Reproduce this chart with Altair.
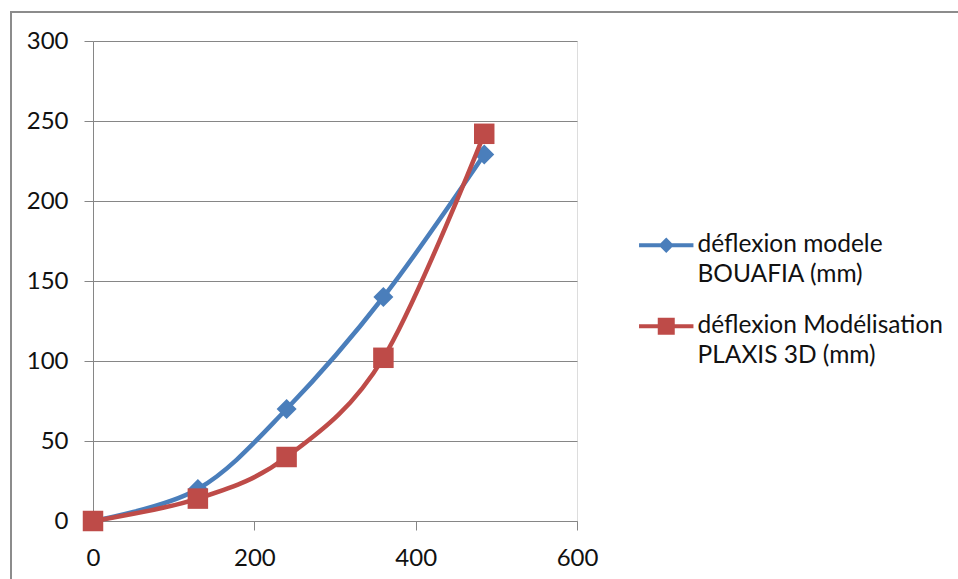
import altair as alt
import pandas as pd

# ---- data ----
x_vals = [0, 130, 240, 360, 485]
bouafia = [0, 20, 70, 140, 229]
plaxis = [0, 14, 40, 102, 242]
# each legend label is split into its two printed lines
label_a = ["déflexion modele", "BOUAFIA (mm)"]
label_b = ["déflexion Modélisation", "PLAXIS 3D (mm)"]
x_ticks = [0, 200, 400, 600]
y_ticks = [0, 50, 100, 150, 200, 250, 300]

df_a = pd.DataFrame({"x": x_vals, "y": bouafia, "series": label_a[0]})
df_b = pd.DataFrame({"x": x_vals, "y": plaxis, "series": label_b[0]})

BLUE = "#4A7EBB"
RED = "#BE4B48"
GRID = "#868686"
FONT = "Lato"
TXT = "#111111"

# legend symbols: horizontal line + marker (unit box -1..1 scaled by sqrt(size)/2)
diamond_path = "M-3.2,-0.24H3.2V0.24H-3.2Z M0,-0.9L0.9,0L0,0.9L-0.9,0Z"
square_path = "M-3.2,-0.24H3.2V0.24H-3.2Z M-1,-1H1V1H-1Z"

x_enc = alt.X(
    "x:Q",
    scale=alt.Scale(domain=[0, 600], nice=False, zero=False),
    axis=alt.Axis(values=x_ticks, title=None, grid=False, domainColor=GRID,
                  tickColor=GRID, tickSize=9, labelPadding=16, labelFont=FONT,
                  labelFontSize=24, labelColor=TXT, labelFlush=False),
)
y_enc = alt.Y(
    "y:Q",
    scale=alt.Scale(domain=[0, 300], nice=False),
    axis=alt.Axis(values=y_ticks, title=None, grid=True, gridColor=GRID,
                  domainColor=GRID, tickColor=GRID, tickSize=9, labelPadding=16,
                  labelFont=FONT, labelFontSize=24, labelColor=TXT),
)


def series_layer(df, labels, color, shape, size, path, ly):
    legend = alt.Legend(
        title=None, orient="none", legendX=561, legendY=ly,
        symbolType=path, symbolSize=289, symbolStrokeWidth=0,
        symbolFillColor=color,
        labelFont=FONT, labelFontSize=24.5, labelColor=TXT,
        labelOffset=19, labelLimit=500, rowPadding=5,
        padding=0,
    )
    return alt.Chart(df).mark_line(
        strokeWidth=4.5, interpolate="cardinal",
        point=alt.OverlayMarkDef(shape=shape, filled=True, size=size),
    ).encode(
        x=x_enc, y=y_enc,
        color=alt.Color("series:N", scale=alt.Scale(domain=labels, range=[color, color]),
                        legend=legend),
        opacity=alt.Opacity("series:N", scale=alt.Scale(domain=labels, range=[1, 0]),
                            legend=legend),
    )


frame = alt.Chart(pd.DataFrame({"f": [0]})).mark_rect(
    fill=None, stroke="#8C8C8C", strokeWidth=2, clip=False
).encode(
    x=alt.value(-82), x2=alt.value(920), y=alt.value(-29), y2=alt.value(600)
)

chart = alt.layer(
    frame,
    series_layer(df_a, label_a, BLUE, "diamond", 400, diamond_path, 192),
    series_layer(df_b, label_b, RED, "square", 420, square_path, 273),
).resolve_scale(color="independent", opacity="independent").properties(
    width=484, height=480,
    autosize=alt.AutoSizeParams(type="none"),
    padding={"left": 93, "top": 41, "right": 381, "bottom": 58},
).configure_view(stroke=None).configure(background="white")

chart.save("out.html", embed_options={"renderer": "svg", "actions": False})
